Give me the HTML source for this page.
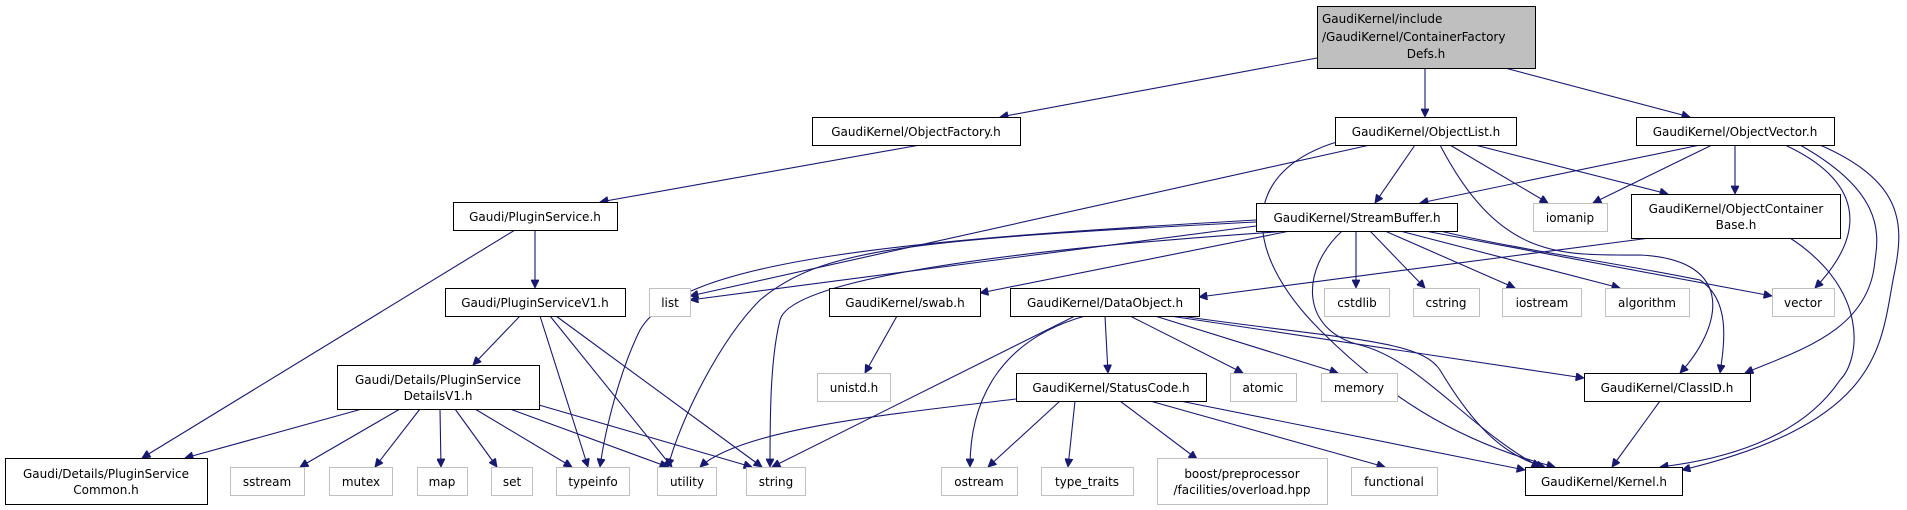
<!DOCTYPE html>
<html><head><meta charset="utf-8"><style>
html,body{margin:0;padding:0;background:#fff;}
svg{display:block;}
text{font-family:"DejaVu Sans","Liberation Sans",sans-serif;font-size:12px;fill:#000;}
.n{fill:#fff;stroke:#000;stroke-width:1;}
.g{fill:#fff;stroke:#bfbfbf;stroke-width:1;}
.e{fill:none;stroke:#191970;stroke-width:1.1;marker-end:url(#a);}
</style></head><body>
<svg width="1907" height="510" viewBox="0 0 1907 510" xmlns="http://www.w3.org/2000/svg">
<defs><marker id="a" viewBox="0 0 10 10" refX="10" refY="5" markerWidth="10" markerHeight="8" markerUnits="userSpaceOnUse" orient="auto"><path d="M0,0 L10,5 L0,10 z" fill="#191970" stroke="#191970"/></marker></defs>

<!-- edges -->
<path class="e" d="M1317,58 L1000,117"/>
<path class="e" d="M1425,68 L1425,117"/>
<path class="e" d="M1505,68 L1690,117"/>
<path class="e" d="M920,145 L600,202"/>
<path class="e" d="M1370,145 L690,296"/>
<path class="e" d="M1415,145 L1375,203"/>
<path class="e" d="M1450,145 L1548,203"/>
<path class="e" d="M1475,145 L1668,194"/>
<path class="e" d="M1340,141 C1240,170 1240,250 1320,330 C1380,390 1450,440 1555,467"/>
<path class="e" d="M1440,145 C1500,260 1560,255 1640,255 C1740,260 1720,330 1680,373"/>
<path class="e" d="M1700,145 L1420,203"/>
<path class="e" d="M1712,145 L1593,203"/>
<path class="e" d="M1735,145 L1735,194"/>
<path class="e" d="M1785,145 C1860,180 1870,230 1815,288"/>
<path class="e" d="M1800,145 C1880,190 1880,230 1875,260 C1870,330 1800,350 1745,373"/>
<path class="e" d="M1820,145 C1900,180 1905,220 1895,270 C1880,340 1890,420 1682,470"/>
<path class="e" d="M1650,238 L1199,297"/>
<path class="e" d="M1790,238 C1870,290 1860,360 1840,380 C1800,440 1720,460 1660,467"/>
<path class="e" d="M1256,226 L690,300"/>
<path class="e" d="M1256,222 C900,240 820,250 760,300 C720,340 680,420 668,467"/>
<path class="e" d="M1256,220 C900,240 680,260 640,330 C620,370 605,430 600,467"/>
<path class="e" d="M1290,231 C1000,250 790,280 780,320 C770,360 770,420 770,467"/>
<path class="e" d="M1290,231 L980,293"/>
<path class="e" d="M1356,231 L1356,288"/>
<path class="e" d="M1370,231 L1425,288"/>
<path class="e" d="M1385,231 L1515,288"/>
<path class="e" d="M1400,231 L1620,288"/>
<path class="e" d="M1425,231 L1772,296"/>
<path class="e" d="M1342,231 C1300,270 1300,330 1360,345 C1420,360 1470,430 1540,467"/>
<path class="e" d="M1440,231 C1520,250 1600,260 1700,280 C1730,300 1725,340 1720,373"/>
<path class="e" d="M897,316 L865,373"/>
<path class="e" d="M1105,316 L1108,373"/>
<path class="e" d="M1075,316 L772,467"/>
<path class="e" d="M1085,316 C1000,340 970,400 970,467"/>
<path class="e" d="M1130,316 L1243,373"/>
<path class="e" d="M1155,316 L1338,373"/>
<path class="e" d="M1170,316 L1584,378"/>
<path class="e" d="M1180,316 C1350,340 1420,340 1440,370 C1470,420 1500,455 1545,467"/>
<path class="e" d="M1016,399 C880,415 740,430 700,467"/>
<path class="e" d="M1060,401 L988,467"/>
<path class="e" d="M1075,401 L1068,467"/>
<path class="e" d="M1120,401 L1197,459"/>
<path class="e" d="M1150,401 L1385,467"/>
<path class="e" d="M1180,401 L1525,470"/>
<path class="e" d="M1660,401 L1612,467"/>
<path class="e" d="M520,316 L473,365"/>
<path class="e" d="M540,316 L588,467"/>
<path class="e" d="M550,316 L672,467"/>
<path class="e" d="M556,316 L762,467"/>
<path class="e" d="M362,409 L185,458"/>
<path class="e" d="M400,409 L300,467"/>
<path class="e" d="M420,409 L375,467"/>
<path class="e" d="M440,409 L441,467"/>
<path class="e" d="M455,409 L497,467"/>
<path class="e" d="M475,409 L572,467"/>
<path class="e" d="M510,409 L668,467"/>
<path class="e" d="M539,405 L752,467"/>
<path class="e" d="M535,230 L535,288"/>
<path class="e" d="M515,230 L142,458"/>

<!-- nodes -->
<rect x="1317.5" y="6.5" width="218" height="62" fill="#bfbfbf" stroke="#000"/>
<text x="1322" y="23">GaudiKernel/include</text>
<text x="1322" y="41">/GaudiKernel/ContainerFactory</text>
<text x="1426" y="58" text-anchor="middle">Defs.h</text>

<g text-anchor="middle">
<rect class="n" x="812.5" y="117.5" width="208" height="28"/><text x="916" y="136">GaudiKernel/ObjectFactory.h</text>
<rect class="n" x="1335.5" y="117.5" width="181" height="28"/><text x="1426" y="136">GaudiKernel/ObjectList.h</text>
<rect class="n" x="1636.5" y="117.5" width="198" height="28"/><text x="1735" y="136">GaudiKernel/ObjectVector.h</text>
<rect class="n" x="453.5" y="202.5" width="164" height="28"/><text x="535" y="221">Gaudi/PluginService.h</text>
<rect class="n" x="1256.5" y="203.5" width="201" height="28"/><text x="1357" y="222">GaudiKernel/StreamBuffer.h</text>
<rect class="g" x="1533.5" y="203.5" width="74" height="28"/><text x="1570" y="222">iomanip</text>
<rect class="n" x="1631.5" y="194.5" width="209" height="44"/><text x="1736" y="213">GaudiKernel/ObjectContainer</text><text x="1736" y="229">Base.h</text>
<rect class="n" x="445.5" y="288.5" width="180" height="28"/><text x="535" y="307">Gaudi/PluginServiceV1.h</text>
<rect class="g" x="649.5" y="288.5" width="41" height="28"/><text x="670" y="307">list</text>
<rect class="n" x="829.5" y="288.5" width="151" height="28"/><text x="905" y="307">GaudiKernel/swab.h</text>
<rect class="n" x="1010.5" y="288.5" width="189" height="28"/><text x="1105" y="307">GaudiKernel/DataObject.h</text>
<rect class="g" x="1324.5" y="288.5" width="65" height="28"/><text x="1357" y="307">cstdlib</text>
<rect class="g" x="1413.5" y="288.5" width="66" height="28"/><text x="1446" y="307">cstring</text>
<rect class="g" x="1502.5" y="288.5" width="79" height="28"/><text x="1542" y="307">iostream</text>
<rect class="g" x="1605.5" y="288.5" width="84" height="28"/><text x="1647" y="307">algorithm</text>
<rect class="g" x="1772.5" y="288.5" width="62" height="28"/><text x="1803" y="307">vector</text>
<rect class="n" x="337.5" y="365.5" width="202" height="44"/><text x="438" y="384">Gaudi/Details/PluginService</text><text x="438" y="400">DetailsV1.h</text>
<rect class="g" x="817.5" y="373.5" width="73" height="28"/><text x="854" y="392">unistd.h</text>
<rect class="n" x="1016.5" y="373.5" width="190" height="28"/><text x="1111" y="392">GaudiKernel/StatusCode.h</text>
<rect class="g" x="1230.5" y="373.5" width="66" height="28"/><text x="1263" y="392">atomic</text>
<rect class="g" x="1321.5" y="373.5" width="76" height="28"/><text x="1359" y="392">memory</text>
<rect class="n" x="1584.5" y="373.5" width="166" height="28"/><text x="1667" y="392">GaudiKernel/ClassID.h</text>
<rect class="n" x="5.5" y="458.5" width="202" height="46"/><text x="106" y="478">Gaudi/Details/PluginService</text><text x="106" y="494">Common.h</text>
<rect class="g" x="230.5" y="467.5" width="74" height="28"/><text x="267" y="486">sstream</text>
<rect class="g" x="329.5" y="467.5" width="63" height="28"/><text x="361" y="486">mutex</text>
<rect class="g" x="417.5" y="467.5" width="50" height="28"/><text x="442" y="486">map</text>
<rect class="g" x="491.5" y="467.5" width="41" height="28"/><text x="512" y="486">set</text>
<rect class="g" x="556.5" y="467.5" width="73" height="28"/><text x="593" y="486">typeinfo</text>
<rect class="g" x="657.5" y="467.5" width="59" height="28"/><text x="687" y="486">utility</text>
<rect class="g" x="746.5" y="467.5" width="59" height="28"/><text x="776" y="486">string</text>
<rect class="g" x="941.5" y="467.5" width="76" height="28"/><text x="979" y="486">ostream</text>
<rect class="g" x="1041.5" y="467.5" width="92" height="28"/><text x="1087" y="486">type_traits</text>
<rect class="g" x="1157.5" y="458.5" width="170" height="46"/><text x="1242" y="478">boost/preprocessor</text><text x="1242" y="494">/facilities/overload.hpp</text>
<rect class="g" x="1351.5" y="467.5" width="86" height="28"/><text x="1394" y="486">functional</text>
<rect class="n" x="1525.5" y="467.5" width="157" height="28"/><text x="1604" y="486">GaudiKernel/Kernel.h</text>
</g>
</svg>
</body></html>
